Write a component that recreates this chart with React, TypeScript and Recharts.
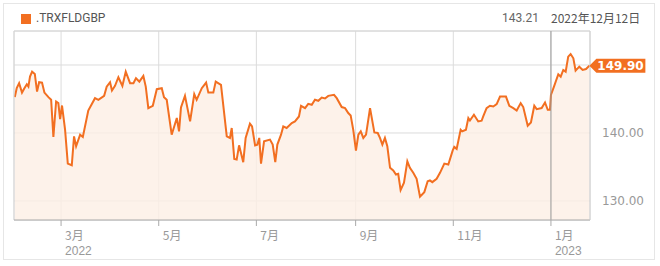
import React from "react";
import {
  ComposedChart,
  Area,
  XAxis,
  YAxis,
  CartesianGrid,
  ReferenceLine,
  ReferenceDot,
} from "recharts";

// Day number counted from 1 Jan 2022 (day 0)
const days = [
  30.1, 31.3, 32.8, 34.6, 36.1, 37.6, 38.6, 39.6, 40.9, 42.6, 44, 45.3, 47.1, 48.6, 51.1, 52.8, 54.2, 55.9, 57.3, 58.4,
  59.6, 61.5, 63.2, 65.7, 67.1, 68.4, 70.9, 72.6, 76.0, 80.2, 82.3, 85.9, 87.5, 89.6, 90.8, 92.7, 94.8, 97.3, 99.4, 102.1,
  104.2, 105.8, 107.9, 110.4, 111.9, 113.5, 116.3, 118.8, 121.9, 123.3, 125.0, 128.1, 131.3, 132.7, 133.9, 136.4, 139.6, 142.2, 143.7, 146.9,
  149.6, 151.0, 154.1, 155.6, 158.9, 162.5, 164.5, 165.6, 167.2, 168.7, 170.2, 172.8, 174.3, 177.0, 178.3, 180.2, 181.6, 182.8, 183.9, 185.8,
  189.5, 191.2, 192.8, 194.1, 196.4, 197.8, 199.9, 203.1, 205.1, 207.6, 208.9, 211.4, 213.4, 215.6, 217.6, 219.7, 221.8, 223.9, 225.9, 229.5,
  231.2, 234.3, 236.4, 238.4, 239.9, 241.5, 243.2, 244.7, 246.2, 247.8, 249.5, 252.0, 254.7, 256.8, 258.2, 259.7, 261.3, 262.8, 264.5, 266.5,
  268.2, 269.6, 271.1, 273.2, 275.3, 276.9, 279.0, 281.1, 283.2, 285.9, 288.0, 289.4, 290.9, 293.6, 295.7, 298.4, 300.9, 303.6, 304.6, 306.1,
  308.6, 309.6, 311.9, 313.4, 314.4, 316.9, 319.6, 321.7, 322.7, 324.8, 326.9, 329.0, 331.1, 333.2, 336.9, 339.0, 341.5, 343.6, 346.1, 347.7,
  350.5, 352.5, 354.6, 356.1, 359.2, 361.3, 363.0, 364.4, 365.0, 366.9, 369.6, 371.1, 372.7, 374.2, 375.8, 377.3, 379.0, 380.4, 382.7, 384.8,
  386.9, 389.0,
];

const values = [
  145.27, 146.59, 147.32, 145.94, 146.59, 147.17, 146.82, 148.29, 149.02, 148.68, 146.09, 147.47, 147.41, 145.94, 145.27, 144.88, 139.41, 144.63, 144.39, 142.05,
  144.04, 140.48, 135.5, 135.26, 139.5, 138.04, 139.75, 139.41, 143.31, 145.12, 144.88, 145.46, 146.82, 147.47, 146.24, 146.93, 148.2, 146.93, 149.02, 147.32,
  147.32, 148.05, 147.55, 148.39, 146.82, 143.66, 144.0, 146.44, 146.59, 145.27, 144.88, 139.75, 142.2, 140.23, 143.75, 145.46, 141.7, 145.71, 144.88, 146.59,
  147.41, 145.94, 145.94, 147.55, 147.07, 139.5, 139.27, 140.73, 136.19, 136.09, 138.18, 135.7, 139.27, 141.36, 140.97, 138.18, 138.29, 139.27, 135.5, 138.77,
  139.02, 138.29, 135.7, 138.29, 139.75, 140.97, 140.73, 141.46, 141.7, 142.43, 144.0, 143.66, 144.29, 144.14, 144.88, 144.73, 145.21, 145.07, 145.46, 145.61,
  145.12, 143.81, 143.66, 142.93, 142.58, 140.48, 137.41, 139.75, 140.23, 139.27, 139.75, 143.66, 140.09, 140.0, 139.27, 138.29, 139.27, 138.04, 134.88, 134.48,
  133.89, 133.99, 131.6, 132.68, 135.84, 134.88, 134.14, 133.27, 130.63, 131.3, 132.91, 133.02, 132.77, 133.27, 134.14, 135.5, 135.36, 137.41, 137.95, 137.66,
  140.48, 140.23, 140.48, 142.2, 141.84, 142.68, 141.7, 141.8, 142.43, 143.66, 144.0, 143.89, 144.25, 145.36, 145.36, 144.0, 143.66, 143.31, 144.39, 143.81,
  141.07, 141.55, 144.0, 143.51, 143.66, 144.48, 143.41, 143.41, 145.61, 146.82, 148.64, 148.29, 149.27, 149.02, 151.22, 151.61, 150.98, 149.17, 149.75, 149.27,
  149.41, 149.9,
];

const monthTicks = [59, 120, 181, 243, 304, 365];
const monthLabels = ["3月", "5月", "7月", "9月", "11月", "1月"];
const yearLabels = ["2022", "", "", "", "", "2023"];
const yTicks = [130, 140, 150];
const yLabelTicks = [130, 140];

const seriesName = ".TRXFLDGBP";
const headerValue = "143.21";
const headerDate = "2022年12月12日";
const lastValue = 149.9;
const lastDay = 389.0;
const crosshairDay = 365;

const data = days.map((d, i) => ({ day: d, v: values[i] }));

const ORANGE = "#f26f21";

const XTick = (props: any) => {
  const { x, y, payload } = props;
  const idx = monthTicks.indexOf(payload.value);
  return (
    <g>
      <text
        x={x + 4}
        y={y + 11.5}
        fill="#999"
        fontSize={12}
        fontFamily="'Noto Sans CJK JP', sans-serif"
        textAnchor="start"
      >
        {monthLabels[idx]}
      </text>
      {yearLabels[idx] ? (
        <text
          x={x + 4}
          y={y + 26.5}
          fill="#999"
          fontSize={12}
          fontFamily="'Liberation Sans', sans-serif"
          textAnchor="start"
        >
          {yearLabels[idx]}
        </text>
      ) : null}
    </g>
  );
};

const YTick = (props: any) => {
  const { x, y, payload } = props;
  if (!yLabelTicks.includes(payload.value)) return <g />;
  return (
    <text x={x + 4} y={y + 4} fill="#999" fontSize={12} fontFamily="'DejaVu Sans', sans-serif" textAnchor="start">
      {payload.value.toFixed(2)}
    </text>
  );
};

const Tag = (props: any) => {
  const { cx, cy } = props;
  const x0 = cx;
  const w = 49;
  const h = 14;
  const a = 7;
  const pts = `${x0},${cy} ${x0 + a},${cy - h / 2} ${x0 + a + w},${cy - h / 2} ${x0 + a + w},${cy + h / 2} ${x0 + a},${cy + h / 2}`;
  return (
    <g>
      <polygon points={pts} fill={ORANGE} />
      <text x={x0 + a + 1} y={cy + 4.5} fill="#fff" fontSize={12} fontWeight="bold" fontFamily="'DejaVu Sans', sans-serif">
        {lastValue.toFixed(2)}
      </text>
    </g>
  );
};

export default function App() {
  return (
    <div style={{ position: "absolute", left: 0, top: 0, width: 660, height: 266, background: "#fff" }}>
      <div
        style={{
          position: "absolute",
          left: 3,
          top: 3,
          width: 652,
          height: 257,
          border: "1px solid #e6e6e6",
          boxSizing: "border-box",
        }}
      />
      <div style={{ position: "absolute", left: 21, top: 14, width: 10, height: 10, background: ORANGE }} />
      <div
        style={{
          position: "absolute",
          left: 36,
          top: 11,
          fontSize: 12,
          color: "#555",
          fontFamily: "'Liberation Sans Narrow', Roboto, sans-serif",
          lineHeight: "15px",
        }}
      >
        {seriesName}
      </div>
      <div
        style={{
          position: "absolute",
          right: 121,
          top: 11,
          fontSize: 12,
          color: "#666",
          fontFamily: "Roboto, sans-serif",
          lineHeight: "15px",
        }}
      >
        {headerValue}
      </div>
      <div
        style={{
          position: "absolute",
          left: 551,
          top: 10,
          fontSize: 12,
          color: "#555",
          fontFamily: "'Liberation Sans Narrow', 'Noto Sans CJK JP', sans-serif",
          lineHeight: "15px",
        }}
      >
        {headerDate}
      </div>
      <div style={{ position: "absolute", left: 0, top: 0 }}>
        <ComposedChart width={660} height={266} data={data} margin={{ top: 31, right: 0, left: 14, bottom: 0 }}>
          <CartesianGrid stroke="#dcdcdc" horizontal vertical />
          <XAxis
            dataKey="day"
            type="number"
            domain={[29.6, 389.4]}
            ticks={monthTicks}
            allowDataOverflow
            height={46}
            tick={<XTick />}
            tickLine={{ stroke: "#aaa" }}
            tickSize={6}
            axisLine={{ stroke: "#aaa" }}
            interval={0}
          />
          <YAxis
            orientation="right"
            type="number"
            domain={[127.2, 155]}
            ticks={yTicks}
            allowDataOverflow
            width={70}
            tick={<YTick />}
            tickLine={false}
            axisLine={{ stroke: "#cfcfcf" }}
            interval={0}
          />
          <ReferenceLine y={155} stroke="#d6d6d6" />
          <ReferenceLine x={29.6} stroke="#d6d6d6" />
          <ReferenceLine x={crosshairDay} stroke="#999" />
          <Area
            type="linear"
            dataKey="v"
            stroke={ORANGE}
            strokeWidth={2}
            fill="#fdefe5"
            fillOpacity={0.8}
            isAnimationActive={false}
            dot={false}
            activeDot={false}
            baseValue={127.2}
          />
          <ReferenceDot x={lastDay} y={lastValue} shape={<Tag />} />
        </ComposedChart>
      </div>
    </div>
  );
}
